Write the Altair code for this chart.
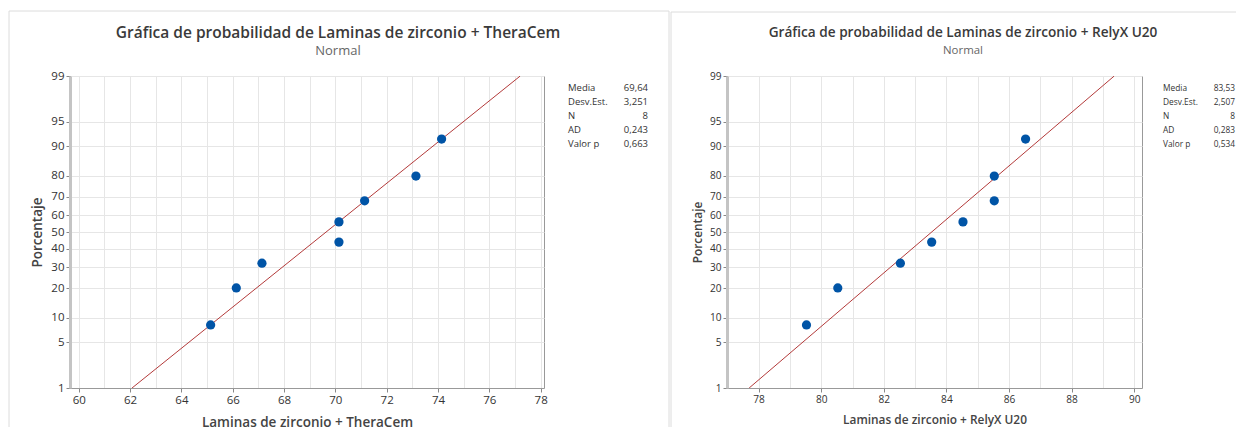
import altair as alt
import pandas as pd
from statistics import NormalDist

# ---------------- data ----------------
pct = [8.3, 20.2, 32.1, 44.0, 56.0, 67.9, 79.8, 91.7]
thera = [65.14, 66.14, 67.14, 70.14, 70.14, 71.14, 73.14, 74.14]
relyx = [79.53, 80.53, 82.53, 83.53, 84.53, 85.53, 85.53, 86.53]
y_ticks = [1, 5, 10, 20, 30, 40, 50, 60, 70, 80, 90, 95, 99]
stat_labels = ["Media", "Desv.Est.", "N", "AD", "Valor p"]
thera_stats = ["69,64", "3,251", "8", "0,243", "0,663"]
relyx_stats = ["83,53", "2,507", "8", "0,283", "0,534"]
thera_mean, thera_sd = 69.64, 3.251
relyx_mean, relyx_sd = 83.53, 2.507
fit_ends = [1, 99]
thera_grid = list(range(60, 79))
relyx_grid = list(range(77, 91))

FONT = "Open Sans"
nd = NormalDist()
y_vals = [nd.inv_cdf(p / 100) for p in y_ticks]
zmax = nd.inv_cdf(0.99)
HEIGHT = 312
FRAME = "#dcdcdc"


def panel(xvals, stats, mean, sd, title, xtitle, xdom, xgrid, width,
          tcx, stat_x, val_x, fl, fr, ft, with_right, k):
    # k: text scale of the panel
    xenc = alt.X(
        "x:Q",
        scale=alt.Scale(domain=xdom, nice=False, zero=False),
        axis=alt.Axis(
            values=xgrid,
            labelExpr="datum.value % 2 == 0 ? datum.label : ''",
            tickColor={"condition": {"test": "datum.value % 2 != 0", "value": "transparent"},
                       "value": "#888888"},
            title=xtitle,
            titlePadding=10,
            labelFontSize=11.5 * k,
            titleFontSize=13.5 * k,
        ),
    )
    yenc = alt.Y(
        "z:Q",
        scale=alt.Scale(domain=[-zmax, zmax], nice=False, zero=False),
        axis=alt.Axis(
            values=y_vals,
            labelExpr="format(cumulativeNormal(datum.value) * 100, '.0f')",
            title="Porcentaje",
            titlePadding=6,
            domainColor="#c4c4c4",
            domainWidth=3,
            labelFontSize=11.5 * k,
            titleFontSize=13.5 * k,
        ),
    )

    fit = (
        alt.Chart(pd.DataFrame({"p": fit_ends, "mean": [mean] * 2, "sd": [sd] * 2}))
        .transform_calculate(
            z="quantileNormal(datum.p / 100)",
            x="datum.mean + datum.sd * quantileNormal(datum.p / 100)",
        )
        .mark_line(color="#b33a3a", strokeWidth=1, clip=True)
        .encode(x=xenc, y=yenc)
    )

    pts = (
        alt.Chart(pd.DataFrame({"x": xvals, "pct": pct}))
        .transform_calculate(z="quantileNormal(datum.pct / 100)")
        .mark_circle(color="#0054a6", opacity=1, size=85)
        .encode(x=xenc, y=yenc)
    )

    sdf = pd.DataFrame({"label": stat_labels, "value": stats})
    sbase = (
        alt.Chart(sdf)
        .transform_window(row="row_number()")
        .transform_calculate(py="12 + 14 * (datum.row - 1)")
    )
    slab = sbase.mark_text(align="left", baseline="middle", font=FONT,
                           fontSize=9.5 * k, color="#333333").encode(
        x=alt.value(stat_x), y=alt.Y("py:Q", scale=None, axis=None), text="label:N")
    sval = sbase.mark_text(align="right", baseline="middle", font=FONT,
                           fontSize=9.5 * k, color="#333333").encode(
        x=alt.value(val_x), y=alt.Y("py:Q", scale=None, axis=None), text="value:N")

    ttl = alt.Chart(pd.DataFrame({"t": [title]})).mark_text(
        align="center", baseline="middle", font=FONT, fontSize=15.5 * k,
        fontWeight=600, color="#3a3a3a").encode(
        text="t:N", x=alt.value(tcx), y=alt.value(-43))
    sub = alt.Chart(pd.DataFrame({"t": ["Normal"]})).mark_text(
        align="center", baseline="middle", font=FONT, fontSize=13 * k,
        color="#666666").encode(
        text="t:N", x=alt.value(tcx), y=alt.value(-25))

    one = pd.DataFrame({"a": [0]})
    f_left = alt.Chart(one).mark_rule(color=FRAME, strokeWidth=1).encode(
        x=alt.value(fl), y=alt.value(ft), y2=alt.value(351))
    f_top = alt.Chart(one).mark_rule(color=FRAME, strokeWidth=1).encode(
        x=alt.value(fl), x2=alt.value(fr), y=alt.value(ft))
    layers = [f_left, f_top]
    if with_right:
        layers.append(alt.Chart(one).mark_rule(color=FRAME, strokeWidth=1).encode(
            x=alt.value(fr), y=alt.value(ft), y2=alt.value(351)))
    return alt.layer(*layers, fit, pts, slab, sval, ttl, sub).properties(
        width=width, height=HEIGHT)


left = panel(thera, thera_stats, thera_mean, thera_sd,
             "Gráfica de probabilidad de Laminas de zirconio + TheraCem",
             "Laminas de zirconio + TheraCem",
             [59.66, 78.13], thera_grid, 474, 268, 498, 578, -61, 599, -65, True, 1.0)

right = panel(relyx, relyx_stats, relyx_mean, relyx_sd,
              "Gráfica de probabilidad de Laminas de zirconio + RelyX U20",
              "Laminas de zirconio + RelyX U20",
              [76.99, 90.25], relyx_grid, 415, 236, 436, 508, -56, 509, -64, False, 0.88)

chart = (
    alt.hconcat(left, right, spacing=0)
    .properties(padding={"left": 0, "top": 2, "right": 0, "bottom": 0})
    .configure_view(stroke="#999999", strokeWidth=1)
    .configure_axis(
        labelFont=FONT, labelColor="#333333",
        titleFont=FONT, titleFontWeight=600, titleColor="#444444",
        gridColor="#e6e6e6", gridWidth=1,
        domainColor="#999999", domainWidth=1,
        tickColor="#888888", tickSize=4, labelPadding=2,
    )
)

chart.save("out.html", embed_options={"renderer": "svg", "actions": False})
